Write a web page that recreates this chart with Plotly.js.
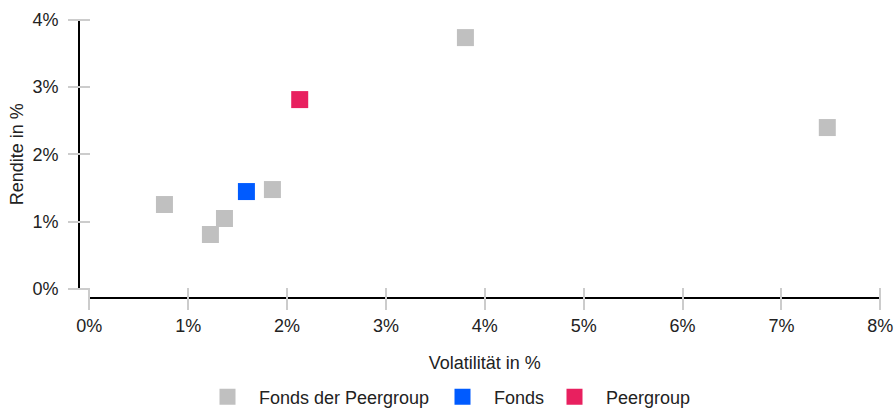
<!DOCTYPE html>
<html>
<head>
<meta charset="utf-8">
<script src="https://cdn.plot.ly/plotly-3.0.1.min.js"></script>
<style>html,body{margin:0;padding:0;background:#fff;}#chart{width:894px;height:409px;}</style>
</head>
<body>
<div id="chart"></div>
<script>
// Data (values in %)
const peerVol = [0.76, 1.225, 1.367, 1.852, 3.804, 7.464];
const peerRet = [1.253, 0.807, 1.045, 1.476, 3.738, 2.399];
const fondsVol = [1.589];
const fondsRet = [1.446];
const groupVol = [2.128];
const groupRet = [2.815];
const seriesNames = ['Fonds der Peergroup', 'Fonds', 'Peergroup'];
const seriesColors = ['#c0c0c0', '#005bff', '#e8205f'];
const xTickVals = [0, 1, 2, 3, 4, 5, 6, 7, 8];
const xTickText = ['0%', '1%', '2%', '3%', '4%', '5%', '6%', '7%', '8%'];
const yTickVals = [0, 1, 2, 3, 4];
const yTickText = ['0%', '1%', '2%', '3%', '4%'];

const W = 894, H = 409;
const M = {l: 50, r: 10, t: 10, b: 100};
const pw = W - M.l - M.r, ph = H - M.t - M.b;
const px = v => (v - M.l) / pw;          // pixel x -> paper fraction
const py = v => (H - M.b - v) / ph;      // pixel y -> paper fraction

const font = {family: 'Liberation Sans, Arial, sans-serif', size: 18, color: '#222'};
const legendIds = ['legend', 'legend2', 'legend3'];
const legendLeft = [196, 431, 543];

function mk(x, y, i) {
  return {
    type: 'scatter', mode: 'markers', x: x, y: y, name: seriesNames[i],
    legend: legendIds[i],
    marker: {symbol: 'square', size: 17, color: seriesColors[i], line: {width: 0}},
    xaxis: 'x', yaxis: 'y', cliponaxis: false
  };
}
// invisible helper traces so the axis-line axes are drawn
function helper(xa, ya) {
  return {type: 'scatter', mode: 'markers', x: [null], y: [null], xaxis: xa, yaxis: ya,
          showlegend: false, hoverinfo: 'skip', marker: {opacity: 0}};
}
const data = [mk(peerVol, peerRet, 0), mk(fondsVol, fondsRet, 1), mk(groupVol, groupRet, 2),
              helper('x2', 'y'), helper('x', 'y2')];

const xDom = [px(89.3), px(880.3)];
const yDom = [py(288.7), py(20)];

const layout = {
  width: W, height: H, margin: M,
  paper_bgcolor: '#fff', plot_bgcolor: 'rgba(0,0,0,0)',
  font: font, showlegend: true, hovermode: false,
  xaxis: {
    domain: xDom, range: [0, 8], anchor: 'free', position: py(287.3),
    tickmode: 'array', tickvals: xTickVals, ticktext: xTickText,
    ticks: 'outside', ticklen: 22, tickwidth: 2, tickcolor: '#cccccc',
    showline: false, showgrid: false, zeroline: false, tickfont: font,
    title: {text: 'Volatilität in %', font: font, standoff: 21}
  },
  xaxis2: {
    overlaying: 'x', range: [0, 8], anchor: 'free', position: py(298.3),
    showline: true, linecolor: '#000', linewidth: 2,
    ticks: '', showticklabels: false, showgrid: false, zeroline: false
  },
  yaxis: {
    domain: yDom, range: [0, 4], anchor: 'free', position: px(90),
    tickmode: 'array', tickvals: yTickVals, ticktext: yTickText,
    ticks: 'outside', ticklen: 22, tickwidth: 2, tickcolor: '#cccccc',
    ticklabelstandoff: 6,
    showline: false, showgrid: false, zeroline: false, tickfont: font,
    title: {text: 'Rendite in %', font: font, standoff: 3}
  },
  yaxis2: {
    overlaying: 'y', range: [0, 4], anchor: 'free', position: px(79),
    showline: true, linecolor: '#000', linewidth: 2,
    ticks: '', showticklabels: false, showgrid: false, zeroline: false
  }
};
legendIds.forEach((id, i) => {
  layout[id] = {
    orientation: 'h', xref: 'container', yref: 'container',
    x: legendLeft[i] / W, xanchor: 'left', y: (H - 397) / H, yanchor: 'middle',
    font: font, itemwidth: 53, bgcolor: 'rgba(0,0,0,0)'
  };
});

Plotly.newPlot('chart', data, layout, {staticPlot: true, displayModeBar: false});
</script>
</body>
</html>
